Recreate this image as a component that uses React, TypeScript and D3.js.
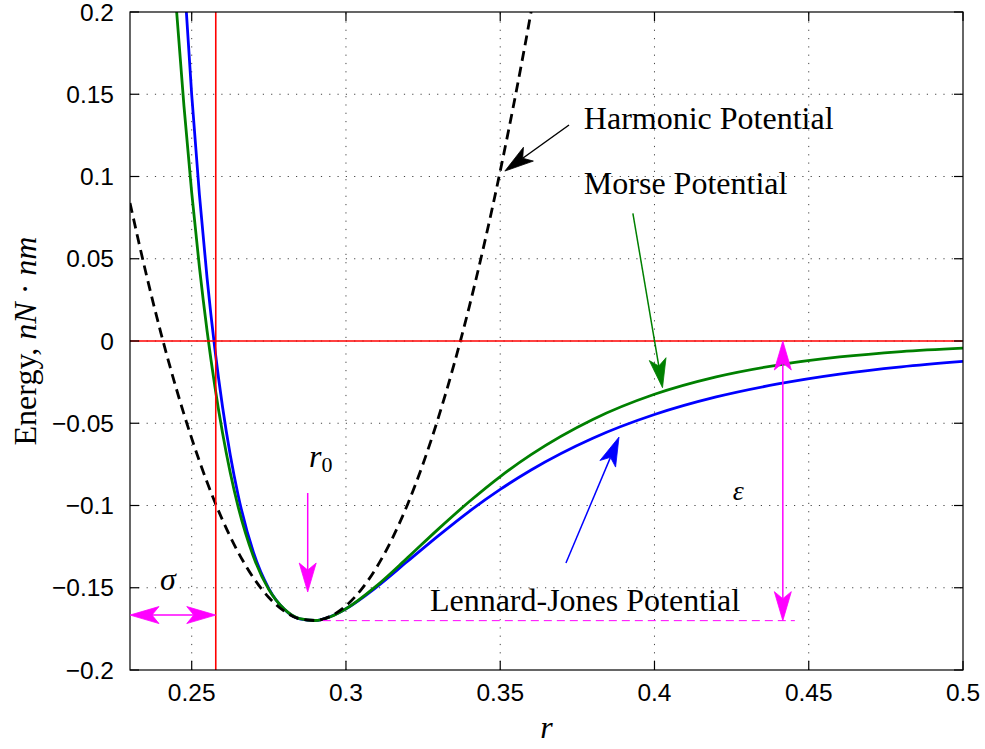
import React from 'react';
import * as d3 from 'd3';

// Interatomic potential curves, energy in nN·nm versus separation r
const xTicks = [0.25, 0.3, 0.35, 0.4, 0.45, 0.5];
const xTickLabels = ['0.25', '0.3', '0.35', '0.4', '0.45', '0.5'];
const yTicks = [-0.2, -0.15, -0.1, -0.05, 0, 0.05, 0.1, 0.15, 0.2];
const yTickLabels = ['\u22120.2', '\u22120.15', '\u22120.1', '\u22120.05', '0', '0.05', '0.1', '0.15', '0.2'];

const rLJ = [0.245, 0.2475, 0.25, 0.2525, 0.255, 0.2575, 0.26, 0.2625, 0.265, 0.27, 0.275, 0.28, 0.285, 0.29, 0.295, 0.3, 0.31, 0.32, 0.33, 0.34, 0.35, 0.36, 0.38, 0.4, 0.42, 0.44, 0.46, 0.48, 0.5];
const ljEnergy = [0.3082, 0.2223, 0.1497, 0.0889, 0.0379, -0.0047, -0.0401, -0.0693, -0.0933, -0.1284, -0.1505, -0.1631, -0.1689, -0.1699, -0.1675, -0.1628, -0.1495, -0.1339, -0.1183, -0.1035, -0.0902, -0.0784, -0.0591, -0.0447, -0.034, -0.0261, -0.0201, -0.0157, -0.0124];

const rMorse = [0.2425, 0.245, 0.2475, 0.25, 0.2525, 0.255, 0.2575, 0.26, 0.2625, 0.265, 0.27, 0.275, 0.28, 0.285, 0.29, 0.295, 0.3, 0.31, 0.32, 0.33, 0.34, 0.35, 0.36, 0.38, 0.4, 0.42, 0.44, 0.46, 0.48, 0.5];
const morseEnergy = [0.2723, 0.203, 0.1426, 0.0902, 0.0449, 0.0059, -0.0275, -0.056, -0.0801, -0.1004, -0.131, -0.1511, -0.163, -0.1688, -0.1699, -0.1676, -0.1628, -0.1487, -0.1317, -0.1142, -0.0976, -0.0824, -0.0691, -0.0477, -0.0324, -0.0218, -0.0146, -0.0097, -0.0064, -0.0043];

const rHarmonic = [0.23, 0.235, 0.24, 0.245, 0.25, 0.255, 0.26, 0.265, 0.27, 0.275, 0.28, 0.285, 0.29, 0.295, 0.3, 0.305, 0.31, 0.315, 0.32, 0.325, 0.33, 0.335, 0.34, 0.345, 0.35, 0.355, 0.36, 0.365];
const harmonicEnergy = [0.0839, 0.0427, 0.005, -0.0289, -0.0592, -0.0859, -0.1089, -0.1282, -0.1439, -0.1559, -0.1642, -0.1689, -0.1699, -0.1673, -0.161, -0.151, -0.1374, -0.1201, -0.0992, -0.0746, -0.0463, -0.0144, 0.0211, 0.0604, 0.1033, 0.1498, 0.2, 0.2539];

// Characteristic parameters
const sigma = 0.2578;
const wellDepth = -0.17;
const r0 = 0.2876;

const W = 985;
const H = 749;
const plot = { left: 130, right: 963, top: 12, bottom: 670 };

const x = d3.scaleLinear().domain([0.23, 0.5]).range([plot.left, plot.right]);
const y = d3.scaleLinear().domain([-0.2, 0.2]).range([plot.bottom, plot.top]);

const line = d3
  .line<[number, number]>()
  .x((d) => x(d[0]))
  .y((d) => y(d[1]))
  .curve(d3.curveMonotoneX);

const zip = (a: number[], b: number[]): [number, number][] => a.map((v, i) => [v, b[i]]);

const SERIF = '"Liberation Serif", "Times New Roman", serif';
const SANS = '"Liberation Sans", Arial, Helvetica, sans-serif';
const MAGENTA = '#ff00ff';

type Pt = [number, number];

function headPath(tip: Pt, from: Pt, L = 29, hw = 8.5, notch = 7) {
  const dx = tip[0] - from[0];
  const dy = tip[1] - from[1];
  const len = Math.hypot(dx, dy);
  const ux = dx / len;
  const uy = dy / len;
  const nx = -uy;
  const ny = ux;
  const bx = tip[0] - ux * L;
  const by = tip[1] - uy * L;
  const kx = tip[0] - ux * (L - notch);
  const ky = tip[1] - uy * (L - notch);
  return {
    d: `M${tip[0]},${tip[1]}L${bx + nx * hw},${by + ny * hw}L${kx},${ky}L${bx - nx * hw},${by - ny * hw}Z`,
    neck: [kx, ky] as Pt,
  };
}

function Arrow({ from, to, color, width = 1.5, both = false }: { from: Pt; to: Pt; color: string; width?: number; both?: boolean }) {
  const p1: Pt = [x(from[0]), y(from[1])];
  const p2: Pt = [x(to[0]), y(to[1])];
  const h2 = headPath(p2, p1);
  const h1 = both ? headPath(p1, p2) : null;
  const start = h1 ? h1.neck : p1;
  return (
    <g>
      <line x1={start[0]} y1={start[1]} x2={h2.neck[0]} y2={h2.neck[1]} stroke={color} strokeWidth={width} />
      <path d={h2.d} fill={color} stroke={color} strokeWidth={0.8} strokeLinejoin="miter" />
      {h1 && <path d={h1.d} fill={color} stroke={color} strokeWidth={0.8} />}
    </g>
  );
}

export default function App() {
  const tickLen = 9;
  return (
    <svg
      width={W}
      height={H}
      viewBox={`0 0 ${W} ${H}`}
      style={{ position: 'absolute', left: 0, top: 0, background: '#fff', display: 'block' }}
    >
      <rect x={0} y={0} width={W} height={H} fill="#fff" />
      <defs>
        <clipPath id="plot-area">
          <rect x={plot.left} y={plot.top} width={plot.right - plot.left} height={plot.bottom - plot.top} />
        </clipPath>
      </defs>

      {/* dotted grid */}
      <g stroke="#444" strokeWidth={1} strokeDasharray="1.2,7.1">
        {xTicks
          .filter((t) => t < 0.5)
          .map((t) => (
            <line key={`gx${t}`} x1={x(t)} x2={x(t)} y1={plot.bottom} y2={plot.top} />
          ))}
        {yTicks
          .filter((t) => t > -0.2 && t < 0.2)
          .map((t) => (
            <line key={`gy${t}`} x1={plot.left} x2={plot.right} y1={y(t)} y2={y(t)} />
          ))}
      </g>

      {/* curves */}
      <g clipPath="url(#plot-area)" fill="none">
        <path d={line(zip(rLJ, ljEnergy)) || ''} stroke="#0000ff" strokeWidth={2.8} />
        <path d={line(zip(rMorse, morseEnergy)) || ''} stroke="#008000" strokeWidth={2.8} />
        <path
          d={line(zip(rHarmonic, harmonicEnergy)) || ''}
          stroke="#000"
          strokeWidth={2.8}
          strokeDasharray="10,6"
        />
        {/* reference lines: zero energy and r = sigma */}
        <line x1={plot.left} x2={plot.right} y1={y(0)} y2={y(0)} stroke="#ff0000" strokeWidth={1.6} />
        <line x1={x(sigma)} x2={x(sigma)} y1={plot.top} y2={plot.bottom} stroke="#ff0000" strokeWidth={1.6} />
        {/* well depth guide */}
        <line
          x1={x(0.2925)}
          x2={x(0.4455)}
          y1={y(wellDepth)}
          y2={y(wellDepth)}
          stroke={MAGENTA}
          strokeWidth={1}
          strokeDasharray="8,5"
        />
      </g>

      {/* axes box and ticks */}
      <g stroke="#000" strokeWidth={1.2} fill="none">
        <rect x={plot.left} y={plot.top} width={plot.right - plot.left} height={plot.bottom - plot.top} />
        {xTicks.map((t) => (
          <g key={`tx${t}`}>
            <line x1={x(t)} x2={x(t)} y1={plot.bottom} y2={plot.bottom - tickLen} />
            <line x1={x(t)} x2={x(t)} y1={plot.top} y2={plot.top + tickLen} />
          </g>
        ))}
        {yTicks.map((t) => (
          <g key={`ty${t}`}>
            <line x1={plot.left} x2={plot.left + tickLen} y1={y(t)} y2={y(t)} />
            <line x1={plot.right} x2={plot.right - tickLen} y1={y(t)} y2={y(t)} />
          </g>
        ))}
      </g>

      {/* tick labels */}
      <g fontFamily={SANS} fontSize={24.5} fill="#000">
        {xTicks.map((t, i) => (
          <text key={`lx${t}`} x={x(t)} y={plot.bottom + 31} textAnchor="middle">
            {xTickLabels[i]}
          </text>
        ))}
        {yTicks.map((t, i) => (
          <text key={`ly${t}`} x={plot.left - 16} y={y(t) + 8.5} textAnchor="end">
            {yTickLabels[i]}
          </text>
        ))}
      </g>

      {/* axis titles */}
      <text x={x(0.365)} y={738} fontFamily={SERIF} fontSize={32} fontStyle="italic" textAnchor="middle">
        r
      </text>
      <text
        transform={`translate(36, ${y(0)}) rotate(-90)`}
        fontFamily={SERIF}
        fontSize={32}
        textAnchor="middle"
      >
        <tspan>Energy, </tspan>
        <tspan fontStyle="italic">nN</tspan>
        <tspan> · </tspan>
        <tspan fontStyle="italic">nm</tspan>
      </text>

      {/* annotations */}
      <g fontFamily={SERIF} fontSize={32} fill="#000">
        <text x={x(0.3771)} y={y(0.1289)}>Harmonic Potential</text>
        <text x={x(0.3771)} y={y(0.0894)}>Morse Potential</text>
        <text x={x(0.3272)} y={y(-0.1641)}>Lennard-Jones Potential</text>
        <text x={x(0.288)} y={y(-0.0766)} fontStyle="italic">
          r<tspan fontStyle="normal" fontSize={22} dy={5}>0</tspan>
        </text>
        <text x={x(0.2397)} y={y(-0.1514)} fontStyle="italic">σ</text>
        <text x={x(0.4254)} y={y(-0.0967)} fontStyle="italic" fontSize={28}>ε</text>
      </g>

      <Arrow from={[0.3723, 0.1313]} to={[0.3515, 0.1033]} color="#000" />
      <Arrow from={[0.393, 0.0776]} to={[0.4026, -0.0284]} color="#008000" />
      <Arrow from={[0.3713, -0.135]} to={[0.3885, -0.0584]} color="#0000ff" />
      <Arrow from={[r0, -0.0924]} to={[r0, -0.1526]} color={MAGENTA} />
      <Arrow from={[0.23, -0.1666]} to={[sigma, -0.1666]} color={MAGENTA} both />
      <Arrow from={[0.4416, 0]} to={[0.4416, wellDepth]} color={MAGENTA} both />
    </svg>
  );
}
